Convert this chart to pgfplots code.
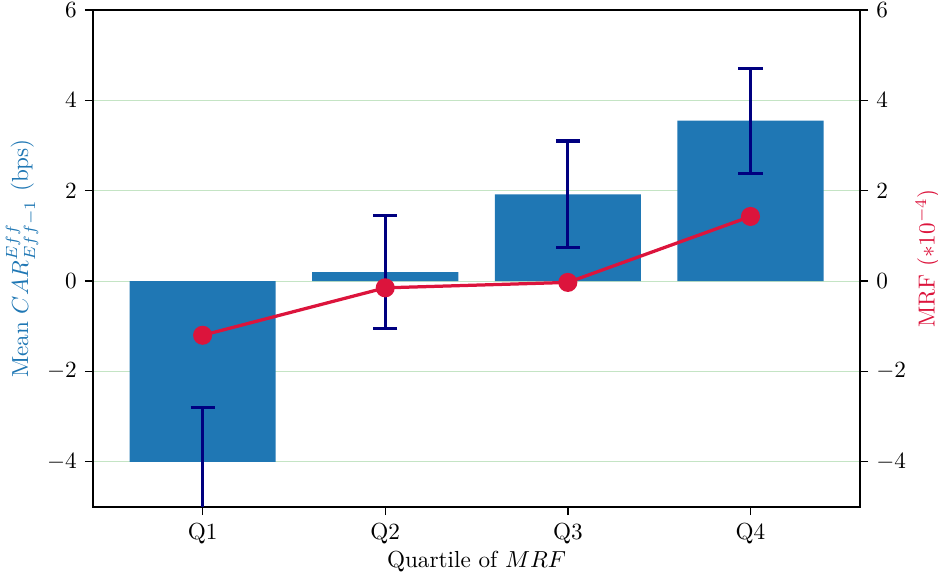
\documentclass[border=0pt]{standalone}
\usepackage{pgfplots}
\pgfplotsset{compat=1.18}
\definecolor{tabblue}{HTML}{1F77B4}
\definecolor{crim}{HTML}{DC143C}
\definecolor{navyc}{HTML}{000080}
\definecolor{gridg}{HTML}{C4E4C4}
\begin{document}
\begin{tikzpicture}
\begin{axis}[
  name=main,
  scale only axis,
  width=330.6pt, height=214.2pt,
  xmin=-0.6, xmax=3.6, ymin=-5, ymax=6,
  xtick={0,1,2,3}, xticklabels={Q1,Q2,Q3,Q4},
  ytick={-4,-2,0,2,4,6},
  xtick pos=bottom, ytick pos=left,
  tick align=outside,
  major tick length=3.5pt,
  tick style={black, line width=0.6pt},
  axis line style={line width=0.8pt},
  ymajorgrids,
  grid style={gridg, line width=0.35pt},
  xlabel={Quartile of $MRF$},
  ylabel={\color{tabblue}Mean $CAR^{Eff}_{Eff-1}$ (bps)},
  xlabel style={at={([yshift=-23.7pt]axis description cs:0.5,0)}, anchor=center},
  ylabel style={at={([xshift=-30.6pt]axis description cs:0,0.5)}, anchor=center},
]
\addplot[ybar, bar width=0.8, fill=tabblue, draw=none,
  error bars/.cd, y dir=both, y explicit,
  error bar style={navyc, line width=1.3pt},
  error mark options={rotate=90, navyc, mark size=5.2pt, line width=1.3pt}]
  coordinates {
  (0,-4.0) +- (0,1.2)
  (1,0.2) +- (0,1.25)
  (2,1.92) +- (0,1.18)
  (3,3.55) +- (0,1.16)
  };
\end{axis}
\begin{axis}[
  scale only axis,
  width=330.6pt, height=214.2pt,
  xmin=-0.6, xmax=3.6, ymin=-5, ymax=6,
  axis x line=none,
  axis y line*=right,
  ytick={-4,-2,0,2,4,6},
  tick align=outside,
  major tick length=3.5pt,
  tick style={black, line width=0.6pt},
  axis line style={line width=0.8pt, -},
  ylabel={\color{crim}MRF ($*10^{-4}$)},
  ylabel style={at={([xshift=29.3pt]axis description cs:1,0.5)}, anchor=center},
]
\addplot[crim, line width=1.4pt, mark=*, mark size=3.4pt, mark options={fill=crim, draw=crim}]
  coordinates {(0,-1.2) (1,-0.15) (2,-0.03) (3,1.43)};
\end{axis}
\pgfresetboundingbox
\path[use as bounding box] ([xshift=-40.1pt,yshift=-30.6pt]main.south west) rectangle ([xshift=33.6pt,yshift=4.3pt]main.north east);
\end{tikzpicture}
\end{document}
